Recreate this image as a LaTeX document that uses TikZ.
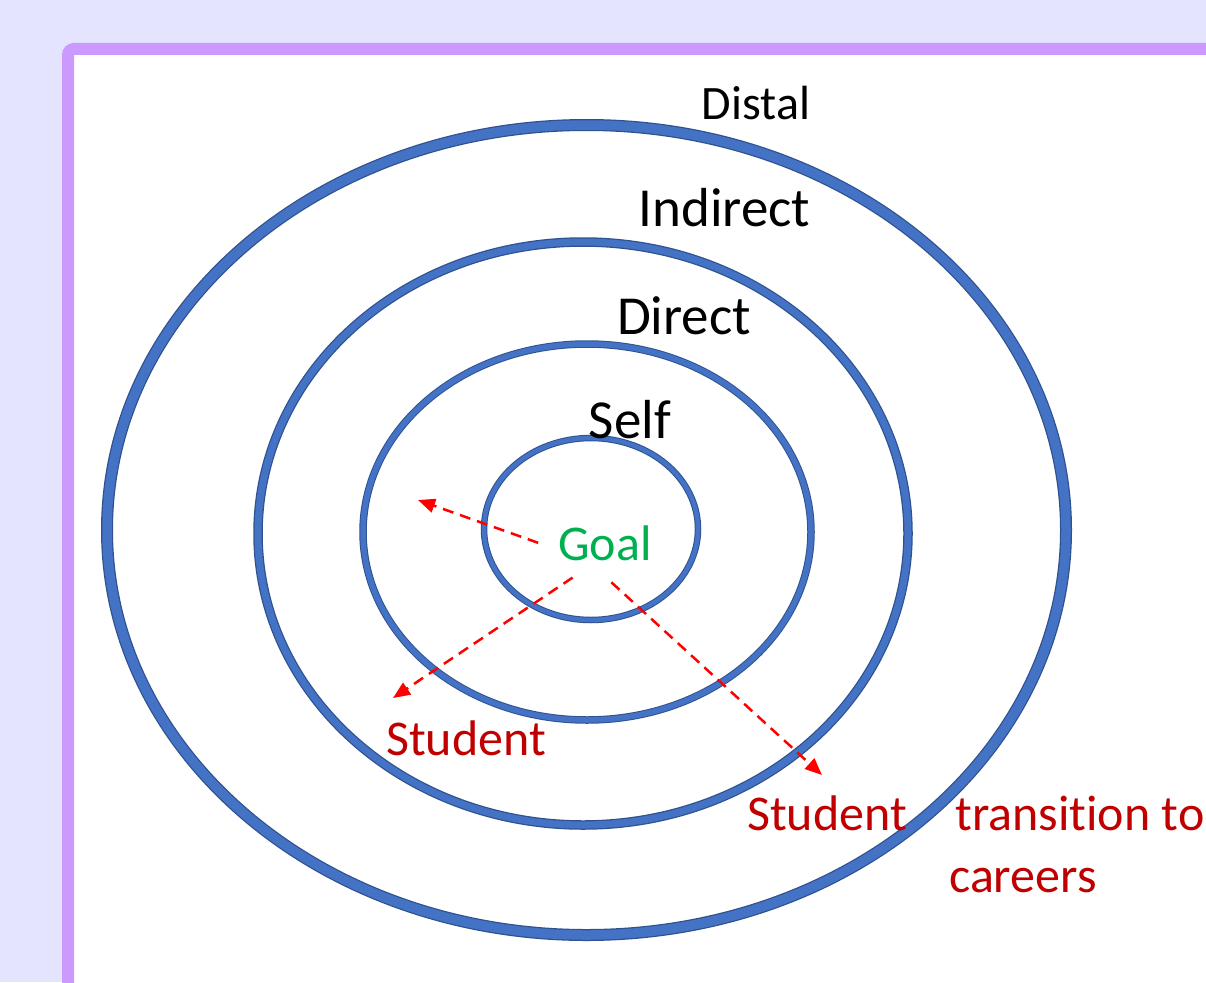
\documentclass[tikz,border=0pt]{standalone}
\usepackage{fontspec}
\setmainfont{Carlito}[Ligatures=NoCommon]
\usetikzlibrary{arrows.meta}
\usetikzlibrary{positioning}

\definecolor{bgcol}{HTML}{E4E4FE}
\definecolor{framecol}{HTML}{CC99FF}
\definecolor{ringcol}{HTML}{4472C4}
\definecolor{ringedge}{HTML}{2F528F}
\definecolor{goalcol}{HTML}{00B050}
\definecolor{studcol}{HTML}{C00000}

\begin{document}
\begin{tikzpicture}[x=1pt, y=-1pt, >={Triangle[length=17pt,width=14pt]}]
	\tikzstyle{frame} = [draw=framecol, fill=white, line width=12pt, rounded corners=6pt];
	\tikzstyle{level} = [anchor=base, inner sep=0pt, text=black];
	\tikzstyle{red txt} = [anchor=base, inner sep=0pt, text=studcol, font=\fontsize{50}{60}\selectfont];
	\tikzstyle{arr} = [->, red, line width=2.5pt, dash pattern=on 11pt off 7pt];

	% page and frame
	\fill [bgcol] (0,0) rectangle (1206,982);
	\useasboundingbox (0,0) rectangle (1206,982);
	\draw [frame] (68,49) rectangle (1260,1040);

	% rings, outer to inner
	\foreach \cx/\cy/\rx/\ry/\w/\v in {586.5/530/479.5/405/12/9.5,
	                                    583/533.5/325/291.5/9.5/7,
	                                    587/532/224/188/7.5/5.5,
	                                    591/529/107/91/6.5/4.5}{
		\draw [ringedge, line width=\w pt] (\cx,\cy) ellipse [x radius=\rx pt, y radius=\ry pt];
		\draw [ringcol, line width=\v pt] (\cx,\cy) ellipse [x radius=\rx pt, y radius=\ry pt];
	}

	\node [level, font=\fontsize{48}{58}\selectfont] (distal)   at (756,119)   {Distal};
	\node [level, font=\fontsize{55}{66}\selectfont] (indirect) at (724.5,226) {Indirect};
	\node [level, font=\fontsize{55}{66}\selectfont] (direct)   at (684,334)   {Direct};
	\node [level, font=\fontsize{55}{66}\selectfont] (self)     at (630,438)   {Self};

	\node [anchor=base, inner xsep=20pt, inner ysep=17pt, text=goalcol,
	       font=\fontsize{50}{60}\selectfont] (goal) at (605,560) {Goal};

	\node [red txt] (stud1) at (466,755) {Student};
	\node [red txt] (stud2) at (827,830) {Student};
	\node [red txt] (trans) [base right=48pt of stud2] {transition to};
	\node [red txt, anchor=base west] (careers) at ([shift={(-6pt,-62pt)}]trans.base west) {careers};

	\coordinate (e1) at (418,500);
	\coordinate (e2) at (393,698);
	\coordinate (e3) at (822,775);

	\draw [arr] (goal.west) -- (e1);
	\draw [arr] (goal.227) -- (e2);
	\draw [arr, shorten <=7pt] (goal.272) -- (e3);
\end{tikzpicture}
\end{document}
